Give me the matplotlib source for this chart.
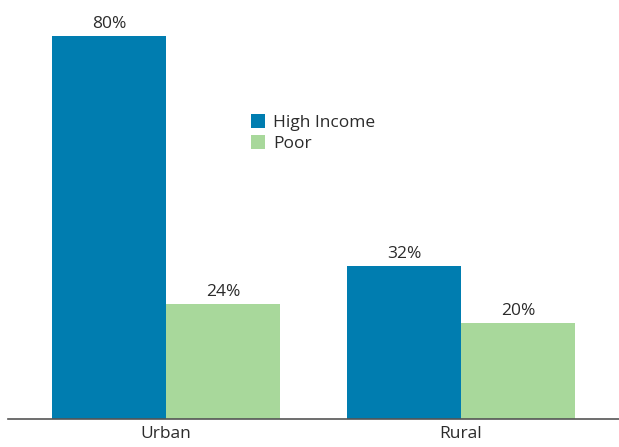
import numpy as np
import matplotlib.pyplot as plt

plt.rcParams['font.family'] = ['Open Sans', 'DejaVu Sans']

# data
categories = ['Urban', 'Rural']
high_income = [80, 32]
poor = [24, 20]
series_names = ['High Income', 'Poor']

blue = '#007DB0'
green = '#A8D89B'
text_col = '#2b2b2b'
fs = 12.5

fig = plt.figure(figsize=(6.19, 4.47), dpi=100)
ax = fig.add_axes([8 / 619, 28 / 447, 611 / 619, 419 / 447])

x = np.arange(len(categories))
w = 0.386
b1 = ax.bar(x - w / 2, high_income, w, color=blue, label=series_names[0])
b2 = ax.bar(x + w / 2, poor, w, color=green, label=series_names[1])

for bars, vals in [(b1, high_income), (b2, poor)]:
    for rect, v in zip(bars, vals):
        ax.text(rect.get_x() + rect.get_width() / 2, v + 0.8, f'{v}%',
                ha='center', va='bottom', fontsize=fs, color=text_col)

ax.set_xlim(-0.5356, 1.5356)
ax.set_ylim(0, 87.5)
ax.set_xticks(x)
ax.set_xticklabels(categories, fontsize=fs, color=text_col)
ax.tick_params(axis='x', length=0, pad=5)
ax.set_yticks([])
for s in ['top', 'right', 'left']:
    ax.spines[s].set_visible(False)
ax.spines['bottom'].set_color('#555555')
ax.spines['bottom'].set_linewidth(1.2)

leg = ax.legend(loc='upper left', bbox_to_anchor=(0.397, 0.728), frameon=False,
                fontsize=fs, handlelength=0.85, handleheight=0.85,
                handletextpad=0.45, labelspacing=0.25, borderaxespad=0,
                borderpad=0)
for t in leg.get_texts():
    t.set_color(text_col)

fig.savefig('out.png', dpi=100)
